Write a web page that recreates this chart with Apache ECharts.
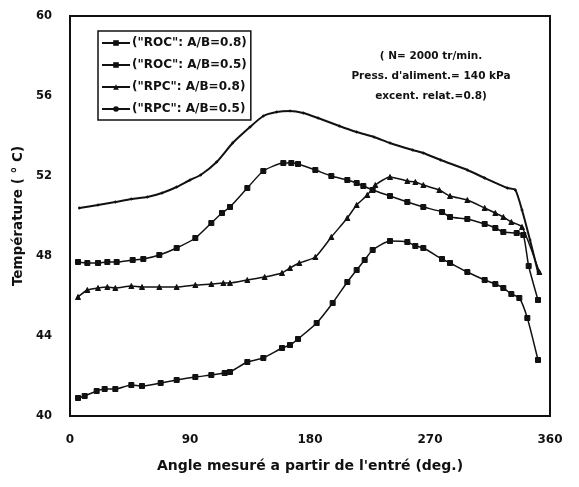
<!DOCTYPE html>
<html>
<head>
<meta charset="utf-8">
<script src="https://cdn.jsdelivr.net/npm/echarts@6/dist/echarts.min.js"></script>
<style>
  html, body { margin: 0; padding: 0; background: #fff; }
  #chart { width: 579px; height: 487px; }
</style>
</head>
<body>
<div id="chart"></div>
<script>
// ("ROC": A/B=0.8) - courbe du bas, carrés
const rocA08Angle = [6, 11, 20, 26, 34, 46, 54, 68, 80, 94, 106, 116, 120, 133, 145, 159, 165, 171, 185, 197, 208, 215, 221, 227, 240, 253, 259, 265, 279, 285, 298, 311, 319, 325, 331, 337, 343, 351]
const rocA08Temp = [40.9, 41.0, 41.25, 41.35, 41.35, 41.55, 41.5, 41.65, 41.8, 41.95, 42.05, 42.15, 42.2, 42.7, 42.9, 43.4, 43.55, 43.85, 44.65, 45.65, 46.7, 47.3, 47.8, 48.3, 48.75, 48.7, 48.5, 48.4, 47.85, 47.65, 47.2, 46.8, 46.6, 46.4, 46.1, 45.9, 44.9, 42.8]

// ("ROC": A/B=0.5)
const rocA05Angle = [6, 13, 21, 28, 35, 47, 55, 67, 80, 94, 106, 114, 120, 133, 145, 160, 166, 171, 184, 196, 208, 215, 220, 227, 240, 253, 265, 279, 285, 298, 311, 319, 325, 335, 340, 344, 351]
const rocA05Temp = [47.7, 47.65, 47.65, 47.7, 47.7, 47.8, 47.85, 48.05, 48.4, 48.9, 49.65, 50.15, 50.45, 51.4, 52.25, 52.65, 52.65, 52.6, 52.3, 52.0, 51.8, 51.65, 51.5, 51.3, 51.0, 50.7, 50.45, 50.2, 49.95, 49.85, 49.6, 49.4, 49.2, 49.15, 49.05, 47.5, 45.8]

// ("RPC": A/B=0.8) - triangles
const rpcA08Angle = [6, 13, 21, 28, 34, 46, 54, 67, 80, 94, 106, 115, 120, 133, 146, 159, 165, 172, 184, 196, 208, 215, 223, 229, 240, 253, 259, 265, 277, 285, 298, 311, 319, 325, 331, 339, 352]
const rpcA08Temp = [45.95, 46.3, 46.4, 46.45, 46.4, 46.5, 46.45, 46.45, 46.45, 46.55, 46.6, 46.65, 46.65, 46.8, 46.95, 47.15, 47.4, 47.65, 47.95, 48.95, 49.9, 50.55, 51.05, 51.55, 51.95, 51.75, 51.7, 51.55, 51.3, 51.0, 50.8, 50.4, 50.15, 49.95, 49.7, 49.45, 47.2]

// ("RPC": A/B=0.5) - courbe du haut
const rpcA05Angle = [7, 21, 34, 46, 58, 69, 80, 90, 98, 110, 122, 135, 145, 155, 165, 175, 186, 202, 215, 228, 240, 257, 265, 278, 298, 311, 328, 334, 339, 345, 351]
const rpcA05Temp = [50.4, 50.55, 50.7, 50.85, 50.95, 51.15, 51.45, 51.8, 52.05, 52.7, 53.65, 54.45, 55.0, 55.2, 55.25, 55.15, 54.9, 54.5, 54.2, 53.95, 53.65, 53.3, 53.15, 52.8, 52.3, 51.9, 51.4, 51.3, 50.3, 48.8, 47.2]

const seriesNames = ['("ROC": A/B=0.8)', '("ROC": A/B=0.5)', '("RPC": A/B=0.8)', '("RPC": A/B=0.5)']
const xTicks = [0, 90, 180, 270, 360]
const annotation = ["( N= 2000 tr/min.", "Press. d'aliment.= 140 kPa", "excent. relat.=0.8)"]

const zip = (xs, ys) => xs.map((x, i) => [x, ys[i]])
const font = "DejaVu Sans, Arial, sans-serif"
const ink = "#111"

const chart = echarts.init(document.getElementById("chart"))

const lineSeries = (name, data, symbol, size) => ({
  name,
  type: "line",
  data,
  symbol,
  symbolSize: size,
  showAllSymbol: true,
  smooth: 0.2,
  lineStyle: { color: ink, width: 1.5 },
  itemStyle: { color: ink, borderColor: ink },
  z: 3,
})

chart.setOption({
  backgroundColor: "#fff",
  animation: false,
  grid: { left: 70, right: 29, top: 16, bottom: 71, show: true, borderColor: ink, borderWidth: 2, backgroundColor: "transparent" },
  legend: {
    left: 98,
    top: 31,
    orient: "vertical",
    backgroundColor: "#fff",
    borderColor: ink,
    borderWidth: 1.5,
    padding: [6, 4, 5, 3],
    itemGap: 10,
    itemWidth: 28,
    itemHeight: 7,
    textStyle: { fontFamily: font, fontSize: 12, fontWeight: "bold", color: ink, padding: [0, 0, 0, -3] },
    data: seriesNames,
  },
  xAxis: {
    type: "value",
    min: 0,
    max: 360,
    interval: 90,
    name: "Angle mesuré a partir de l'entré (deg.)",
    nameLocation: "middle",
    nameGap: 43,
    nameTextStyle: { fontFamily: font, fontSize: 14, fontWeight: "bold", color: ink },
    axisLine: { lineStyle: { color: ink, width: 2 } },
    axisTick: { show: false },
    splitLine: { show: false },
    axisLabel: {
      margin: 18,
      fontFamily: font,
      fontSize: 12,
      fontWeight: "bold",
      color: ink,
      formatter: (v) => (xTicks.includes(v) ? String(v) : ""),
    },
  },
  yAxis: {
    type: "value",
    min: 40,
    max: 60,
    interval: 4,
    name: "Température ( ° C)",
    nameLocation: "middle",
    nameGap: 31,
    nameRotate: 90,
    nameTextStyle: { fontFamily: font, fontSize: 13.5, fontWeight: "bold", color: ink },
    axisLine: { lineStyle: { color: ink, width: 2 } },
    axisTick: { show: false },
    splitLine: { show: false },
    axisLabel: { margin: 18, fontFamily: font, fontSize: 11.5, fontWeight: "bold", color: ink },
  },
  graphic: annotation.map((t, i) => ({
    type: "text",
    x: 431,
    y: 51 + i * 20,
    style: { text: t, fontFamily: font, fontSize: 10.5, fontWeight: "bold", fill: ink, align: "center" },
  })),
  series: [
    lineSeries(seriesNames[0], zip(rocA08Angle, rocA08Temp), "rect", 5),
    lineSeries(seriesNames[1], zip(rocA05Angle, rocA05Temp), "rect", 5),
    lineSeries(seriesNames[2], zip(rpcA08Angle, rpcA08Temp), "triangle", 5),
    { ...lineSeries(seriesNames[3], zip(rpcA05Angle, rpcA05Temp), "circle", 2), lineStyle: { color: ink, width: 2 } },
  ],
})
</script>
</body>
</html>
